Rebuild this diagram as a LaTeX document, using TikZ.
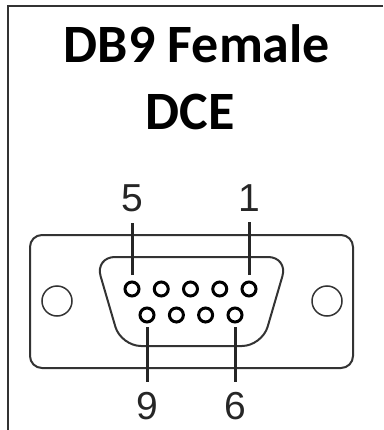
\documentclass[tikz,border=0pt]{standalone}
\usepackage{fontspec}
\setmainfont{Liberation Sans}
\newfontfamily\titlefont{Carlito}

\begin{document}
\begin{tikzpicture}[x=1pt,y=-1pt,
  pin/.style={circle,draw=black,line width=3pt,minimum size=14pt,inner sep=0pt},
  pinnum/.style={font=\fontsize{39}{39}\selectfont,inner sep=0pt,anchor=base,text=black!85},
  lead/.style={line width=3pt,draw=black!85},
  shell/.style={line width=2pt,draw=black!80,rounded corners=12pt}]
\useasboundingbox (0,0) rectangle (383,430);
\draw[line width=2pt,draw=black!80] (383,6) -- (8,6) -- (8,430);

\node[font=\titlefont\bfseries\fontsize{54}{54}\selectfont,anchor=base] (title1) at (197,63) {DB9 Female};
\node[font=\titlefont\bfseries\fontsize{54}{54}\selectfont,anchor=base] (title2) at (190,130) {DCE};

% outer shell and mounting holes
\draw[shell] (30,235) rectangle (353,368);
\draw[line width=1.5pt,draw=black!80] (57,301) circle (15);
\draw[line width=1.5pt,draw=black!80] (327,301) circle (15);
\draw[shell,rounded corners=20pt] (95,257) -- (288,257) -- (262,346) -- (121,346) -- cycle;

% pins
\node[pin] (p1) at (249,289) {};
\node[pin] (p2) at (219.75,289) {};
\node[pin] (p3) at (190.5,289) {};
\node[pin] (p4) at (161.25,289) {};
\node[pin] (p5) at (132,289) {};
\node[pin] (p6) at (235,315) {};
\node[pin] (p7) at (205.6,315) {};
\node[pin] (p8) at (176.4,315) {};
\node[pin] (p9) at (147,315) {};

% pin numbers
\node[pinnum] (n5) at (132,211) {5};
\node[pinnum] (n1) at (249,211) {1};
\node[pinnum] (n9) at (147,419) {9};
\node[pinnum] (n6) at (235,419) {6};

\draw[lead,shorten <=5.5pt,shorten >=11pt] (p5.north) -- (n5.south);
\draw[lead,shorten <=5.5pt,shorten >=11pt] (p1.north) -- (n1.south);
\draw[lead,shorten <=3.5pt,shorten >=10pt] (p9.south) -- (n9.north);
\draw[lead,shorten <=3.5pt,shorten >=10pt] (p6.south) -- (n6.north);
\end{tikzpicture}
\end{document}
